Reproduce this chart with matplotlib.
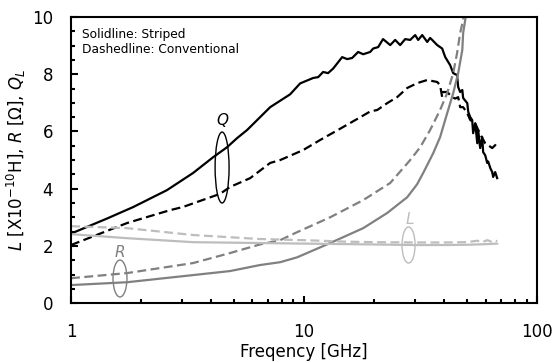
import matplotlib
matplotlib.use("Agg")
import matplotlib.pyplot as plt
from matplotlib.patches import Ellipse
from matplotlib.ticker import FixedLocator, NullFormatter

# Q (quality factor), striped = solid, conventional = dashed
q_s_f = [1.0, 1.43, 1.85, 2.58, 3.34, 4.07, 4.67, 5.16, 5.69, 7.15, 8.71, 9.61, 10.93, 11.49,
         12.06, 12.67, 13.32, 14.56, 15.3, 16.07, 17.05, 17.92, 19.2, 19.78, 20.78, 21.8,
         23.4, 24.58, 25.82, 27.13, 28.5, 29.95, 30.85, 32.1, 33.73, 34.7, 35.43, 37.23,
         39.1, 40.3, 42.3, 43.6, 45.3, 45.8, 46.7, 47.7, 48.1, 50.1, 50.6, 51.6, 52.6, 53.1,
         54.2, 55.3, 55.8, 56.9, 58.1, 58.6, 59.8, 61.0, 61.6, 62.9, 64.1, 64.7, 66.0, 67.3]
q_s = [2.43, 2.96, 3.36, 3.95, 4.55, 5.1, 5.45, 5.77, 6.05, 6.85, 7.3, 7.68, 7.87, 7.9,
       8.08, 8.04, 8.2, 8.6, 8.53, 8.57, 8.78, 8.7, 8.78, 8.9, 8.95, 9.23,
       9.02, 9.2, 9.02, 9.23, 9.2, 9.37, 9.2, 9.37, 9.13, 9.27, 9.2, 9.02,
       8.9, 8.6, 8.32, 8.04, 7.97, 7.55, 7.38, 7.45, 7.17, 6.99, 6.68, 6.5, 6.4, 5.94,
       6.29, 5.59, 6.05, 5.42, 5.8, 5.28, 5.17, 4.9, 4.95, 4.72, 4.58, 4.41, 4.58, 4.37]

q_c_f = [1.0, 1.74, 2.66, 3.02, 4.36, 4.81, 5.87, 7.15, 7.89, 9.9, 11.7, 14.3, 17.0, 19.2,
         20.58, 22.71, 25.06, 27.67, 30.55, 33.73, 37.23, 38.3, 39.1, 39.5, 41.08, 43.17,
         44.46, 45.8, 46.7, 48.1, 50.1, 51.6, 54.2, 55.8, 58.1, 59.8, 61.6, 64.1, 66.0, 67.3]
q_c = [2.03, 2.8, 3.25, 3.36, 3.82, 4.06, 4.37, 4.9, 5.0, 5.35, 5.7, 6.1, 6.45, 6.7,
       6.75, 6.99, 7.2, 7.52, 7.69, 7.8, 7.73, 7.62, 7.2, 7.38, 7.38, 7.2,
       7.15, 7.2, 6.85, 6.85, 6.64, 6.4, 6.29, 6.05, 5.77, 5.59, 5.52, 5.42, 5.52, 5.63]

# R (resistance)
r_s_f = [1.0, 1.74, 3.34, 4.81, 6.46, 7.89, 9.33, 12.93, 17.92, 22.71, 27.67, 30.5, 32.42,
         35.78, 38.3, 41.08, 43.6, 45.8, 47.7, 48.1, 49.1, 50.6]
r_s = [0.63, 0.73, 0.98, 1.12, 1.33, 1.43, 1.6, 2.1, 2.62, 3.15, 3.7, 4.15, 4.55,
       5.24, 5.8, 6.64, 7.34, 8.04, 8.85, 9.44, 9.9, 10.8]

r_c_f = [1.0, 1.74, 3.34, 4.81, 6.46, 7.89, 9.33, 12.93, 17.92, 23.4, 28.5, 31.47, 34.7,
         38.3, 41.08, 43.6, 45.3, 46.7, 48.1, 49.0]
r_c = [0.87, 1.05, 1.4, 1.75, 2.05, 2.2, 2.48, 3.0, 3.6, 4.2, 5.0, 5.45, 6.05,
       6.75, 7.34, 8.04, 8.74, 9.44, 9.9, 10.6]

# L (inductance)
l_s_f = [1.0, 1.74, 3.34, 6.46, 10.0, 20.0, 30.0, 40.0, 50.0, 60.0, 67.3]
l_s = [2.41, 2.27, 2.13, 2.1, 2.08, 2.05, 2.03, 2.03, 2.04, 2.06, 2.08]

l_c_f = [1.0, 1.74, 3.34, 6.46, 10.0, 15.0, 20.0, 30.0, 40.0, 50.0, 55.3, 58.1, 61.0,
         63.5, 66.0, 67.3]
l_c = [2.69, 2.62, 2.38, 2.24, 2.2, 2.15, 2.13, 2.12, 2.12, 2.13, 2.18, 2.13, 2.2,
       2.15, 2.2, 2.16]

black = "black"
gray = "#808080"
light = "#bdbdbd"
dash = (0, (4, 2))

fig = plt.figure(figsize=(5.55, 3.63), dpi=100)
ax = fig.add_axes([0.128, 0.165, 0.84, 0.788])

ax.plot(q_s_f, q_s, color=black, lw=1.6)
ax.plot(q_c_f, q_c, color=black, lw=1.6, linestyle=dash)
ax.plot(r_s_f, r_s, color=gray, lw=1.6)
ax.plot(r_c_f, r_c, color=gray, lw=1.6, linestyle=dash)
ax.plot(l_s_f, l_s, color=light, lw=1.6)
ax.plot(l_c_f, l_c, color=light, lw=1.6, linestyle=dash)

ax.set_xscale("log")
ax.set_xlim(1, 100)
ax.set_ylim(0, 10)

ax.xaxis.set_major_locator(FixedLocator([1, 10, 100]))
ax.set_xticklabels(["1", "10", "100"])
minors = [m * d for d in (1, 10) for m in range(2, 10)]
ax.xaxis.set_minor_locator(FixedLocator(minors))
ax.xaxis.set_minor_formatter(NullFormatter())
ax.set_yticks([0, 2, 4, 6, 8, 10])
ax.set_yticks([v * 0.5 for v in range(21)], minor=True)

ax.tick_params(which="both", direction="in", top=False, right=False, width=1.5, labelsize=12)
ax.tick_params(which="major", length=5)
ax.tick_params(which="minor", length=3)
ax.tick_params(axis="x", which="major", pad=14)
ax.tick_params(axis="y", which="major", pad=13)
for sp in ax.spines.values():
    sp.set_linewidth(1.5)

ax.set_xlabel("Freqency [GHz]", fontsize=12, labelpad=2)
ax.set_ylabel("$L$ [X10$^{-10}$H], $R$ [Ω], $Q_L$", fontsize=12, labelpad=3)

ax.text(0.023, 0.962, "Solidline: Striped\nDashedline: Conventional", transform=ax.transAxes,
        fontsize=8.8, va="top", ha="left", linespacing=1.2)

# ellipse markers
ax.add_patch(Ellipse((0.324, 0.474), 0.030, 0.248, transform=ax.transAxes,
                     fill=False, ec=black, lw=1.0))
ax.text(0.324, 0.64, "Q", transform=ax.transAxes, fontsize=11, style="italic",
        color=black, ha="center", va="center")
ax.add_patch(Ellipse((0.105, 0.086), 0.030, 0.129, transform=ax.transAxes,
                     fill=False, ec=gray, lw=1.0))
ax.text(0.105, 0.178, "R", transform=ax.transAxes, fontsize=11, style="italic",
        color=gray, ha="center", va="center")
ax.add_patch(Ellipse((0.724, 0.203), 0.028, 0.126, transform=ax.transAxes,
                     fill=False, ec=light, lw=1.0))
ax.text(0.726, 0.292, "L", transform=ax.transAxes, fontsize=11, style="italic",
        color=light, ha="center", va="center")

fig.savefig("out.png", dpi=100)
